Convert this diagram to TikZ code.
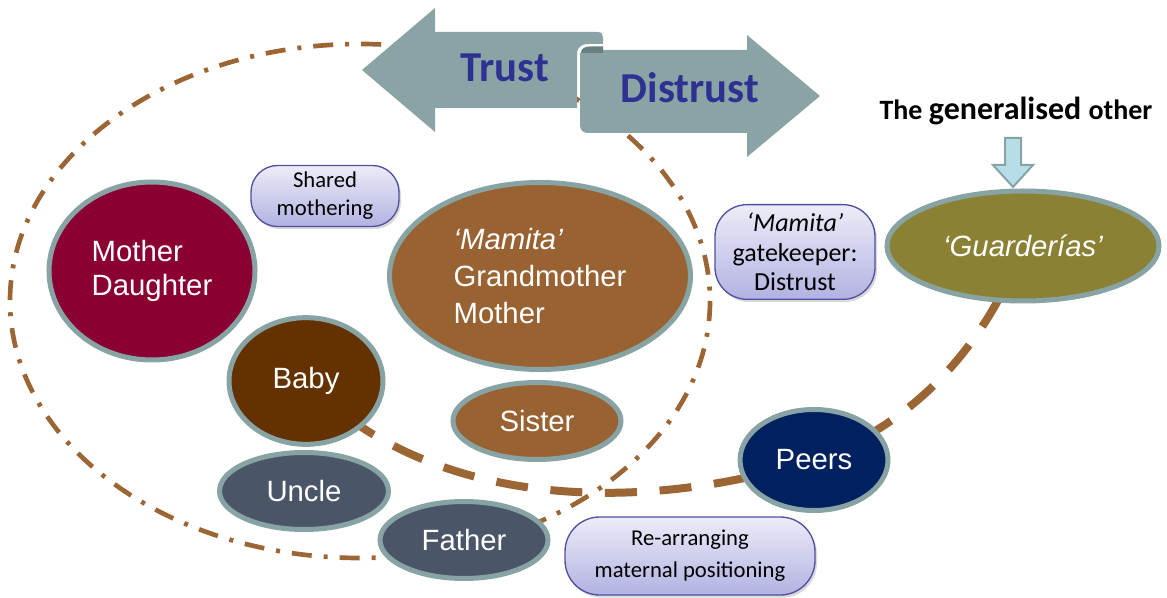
\documentclass[tikz,border=0pt]{standalone}
\usepackage{fontspec}
\setmainfont{Liberation Sans}
\newfontfamily\calibri{Carlito}
\usepackage{tikz}
\usetikzlibrary{shapes.geometric,shadows,backgrounds}
\definecolor{ringbrown}{RGB}{156,102,52}
\definecolor{rimgrey}{RGB}{135,163,163}
\definecolor{mdcrimson}{RGB}{139,0,51}
\definecolor{babybrown}{RGB}{99,50,0}
\definecolor{famtan}{RGB}{153,98,50}
\definecolor{kinslate}{RGB}{74,86,104}
\definecolor{peersnavy}{RGB}{0,32,96}
\definecolor{guardolive}{RGB}{139,129,52}
\definecolor{ribbon}{RGB}{138,164,166}
\definecolor{ribbondark}{RGB}{104,128,130}
\definecolor{trustblue}{RGB}{46,49,146}
\definecolor{boxrim}{RGB}{80,80,160}
\definecolor{boxtop}{RGB}{236,236,248}
\definecolor{boxbot}{RGB}{178,178,226}
\definecolor{cyanfill}{RGB}{183,222,232}

\begin{document}
\begin{tikzpicture}[x=0.75pt,y=-0.75pt,
  person/.style={ellipse,draw=rimgrey,line width=3.75pt,text=white,inner sep=0pt,align=center,font=\fontsize{22}{26}\selectfont},
  notebox/.style={rounded corners=20pt,draw=boxrim,line width=1pt,top color=boxtop,bottom color=boxbot,drop shadow={opacity=0.3,shadow xshift=1.5pt,shadow yshift=-2pt},align=center,inner sep=0pt,font=\calibri\fontsize{17}{21}\selectfont},
  tie/.style={ringbrown,line width=6pt,dash pattern=on 24pt off 17pt}]
\useasboundingbox (0,0) rectangle (1167,598);
% family ring
\draw[ringbrown,line width=3.5pt,dash pattern=on 15pt off 9pt on 3pt off 9pt] (360,301) ellipse [x radius=350,y radius=257];
% trust / distrust ribbon
\fill[ribbon] (580,53) -- (603,53) -- (603,50) -- (747,50) -- (747,35) -- (820,96) -- (747,157) -- (747,133) -- (588,133) .. controls (583,133) and (580,130) .. (580,125) -- cycle;
\fill[ribbon] (362,70) -- (435,8) -- (435,32) -- (598,32) .. controls (602,32) and (603,35) .. (603,38) -- (603,44) -- (588,44) .. controls (582,44) and (578,47) .. (577,52) -- (577,108) -- (435,108) -- (435,132) -- cycle;
\fill[ribbondark] (581,53) .. controls (581,49) and (584,46.5) .. (590,46.5) -- (603,46.5) -- (603,53) -- cycle;
\node[anchor=base,text=trustblue,font=\calibri\bfseries\fontsize{32}{36}\selectfont] (trust) at (505,82) {Trust};
\node[anchor=base,text=trustblue,font=\calibri\bfseries\fontsize{32}{36}\selectfont] (distrust) at (690,103) {Distrust};
% generalised other
\node[anchor=base,font=\calibri\bfseries] (genother) at (1016,120) {\fontsize{21}{24}\selectfont The \fontsize{24}{28}\selectfont generalised \fontsize{21}{24}\selectfont other};
\filldraw[fill=cyanfill,draw=rimgrey,line width=1.5pt] (1005,138) -- (1021,138) -- (1021,165) -- (1033,165) -- (1013,187) -- (993,165) -- (1005,165) -- cycle;
% people
\node[person,fill=mdcrimson,minimum width=154.5pt,minimum height=133.5pt,align=left] (motherdaughter) at (152,271) {Mother\\Daughter};
\node[person,fill=babybrown,minimum width=115.5pt,minimum height=95pt] (baby) at (306,381) {Baby};
\node[person,fill=famtan,minimum width=225.75pt,minimum height=140.25pt,align=left,font=\fontsize{22}{27.5}\selectfont] (mamita) at (540,276) {\textit{‘Mamita’}\\Grandmother\\Mother};
\node[person,fill=famtan,minimum width=126pt,minimum height=57.75pt] (sister) at (537,421) {Sister};
\node[person,fill=kinslate,minimum width=126.75pt,minimum height=57.75pt] (uncle) at (304,491) {Uncle};
\node[person,fill=kinslate,minimum width=126pt,minimum height=57.75pt] (father) at (464,540) {Father};
\node[person,fill=peersnavy,minimum width=111pt,minimum height=75.75pt] (peers) at (814,460) {Peers};
\node[person,fill=guardolive,minimum width=204pt,minimum height=82.5pt,font=\itshape\fontsize{22}{26}\selectfont] (guarderias) at (1023,246) {‘Guarderías’};
% notes
\node[notebox,minimum width=111pt,minimum height=45.75pt] (shared) at (325,196) {Shared\\mothering};
\node[notebox,minimum width=120pt,minimum height=71pt,rounded corners=24pt,font=\calibri\fontsize{19.5}{22}\selectfont] (gatekeeper) at (795,252) {\textit{‘Mamita’}\\gatekeeper:\\Distrust};
\node[notebox,minimum width=187.5pt,minimum height=58.5pt,rounded corners=26pt,font=\calibri\fontsize{17}{24}\selectfont] (rearranging) at (690,556) {Re-arranging\\maternal positioning};
% ties behind the people
\begin{scope}[on background layer]
\draw[tie] (baby.center) .. controls (420,500) and (620,520) .. (peers.center);
\draw[tie] (peers.center) .. controls (900,430) and (980,360) .. (guarderias.center);
\end{scope}
\end{tikzpicture}
\end{document}
